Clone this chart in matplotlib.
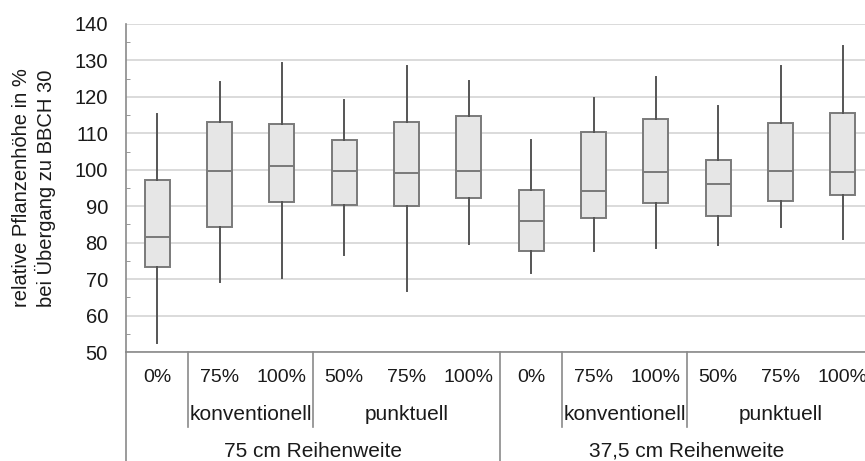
import matplotlib
matplotlib.use("Agg")
import matplotlib.pyplot as plt
import matplotlib.transforms as mtransforms
from matplotlib.ticker import MultipleLocator

plt.rcParams['font.family'] = ['Liberation Sans', 'DejaVu Sans']

# treatment labels (one box per category)
dose_labels = ["0%", "75%", "100%", "50%", "75%", "100%",
               "0%", "75%", "100%", "50%", "75%", "100%"]
method_labels = ["konventionell", "punktuell", "konventionell", "punktuell"]
method_pos = [1.5, 4, 7.5, 10]
group_labels = ["75 cm Reihenweite", "37,5 cm Reihenweite"]
group_pos = [2.5, 8.5]

# box statistics
whislo = [52.4, 69.2, 70.3, 76.6, 66.8, 79.5, 71.8, 77.8, 78.6, 79.4, 84.4, 81.0]
q1     = [73.4, 84.3, 91.2, 90.4, 90.1, 92.2, 77.8, 86.9, 91.0, 87.4, 91.3, 93.0]
med    = [81.5, 99.8, 100.9, 99.8, 99.1, 99.8, 85.9, 94.1, 99.3, 96.2, 99.8, 99.3]
q3     = [97.2, 113.2, 112.5, 108.3, 113.2, 114.8, 94.4, 110.5, 113.8, 102.6, 112.9, 115.6]
whishi = [115.2, 124.2, 129.4, 119.2, 128.4, 124.4, 108.3, 119.8, 125.5, 117.5, 128.4, 134.1]

stats = []
for i in range(len(dose_labels)):
    stats.append(dict(whislo=whislo[i], q1=q1[i], med=med[i], q3=q3[i],
                      whishi=whishi[i], fliers=[]))

fig = plt.figure(figsize=(8.65, 4.61), dpi=100)
# the plot runs slightly past the right edge, like the reference crop
ax = fig.add_axes([126 / 865, 109 / 461, 748 / 865, 328 / 461])

ax.bxp(stats, positions=range(len(stats)), widths=0.4, showcaps=False,
       patch_artist=True,
       boxprops=dict(facecolor="#e6e6e6", edgecolor="#7a7a7a", linewidth=1.4),
       medianprops=dict(color="#7a7a7a", linewidth=1.4),
       whiskerprops=dict(color="#555555", linewidth=1.4),
       zorder=3)

ax.set_xlim(-0.5, len(stats) - 0.5)
ax.set_ylim(50, 140)
ax.yaxis.set_major_locator(MultipleLocator(10))
ax.yaxis.set_minor_locator(MultipleLocator(5))
ax.grid(axis="y", color="#d4d4d4", linewidth=1.2, zorder=0)
ax.set_axisbelow(True)
ax.tick_params(axis="y", which="major", length=0, pad=13, labelsize=14.5,
               labelcolor="#1a1a1a")
ax.tick_params(axis="y", which="minor", direction="in", length=3,
               color="#888888")
ax.set_xticks([])

for side in ["top", "right"]:
    ax.spines[side].set_visible(False)
for side in ["left", "bottom"]:
    ax.spines[side].set_color("#8a8a8a")
    ax.spines[side].set_linewidth(1.2)

# category table below the axis
trans = mtransforms.blended_transform_factory(ax.transData, ax.transAxes)
line_kw = dict(color="#8a8a8a", linewidth=1.2, transform=trans, clip_on=False)

ax.plot([-0.5, -0.5], [0, -0.34], **line_kw)
ax.plot([5.5, 5.5], [0, -0.34], **line_kw)
for xb in [0.5, 2.5, 6.5, 8.5]:
    ax.plot([xb, xb], [0, -0.229], **line_kw)

for i, lab in enumerate(dose_labels):
    ax.text(i, -0.078, lab, transform=trans, ha="center", va="center",
            fontsize=14, color="#1a1a1a", clip_on=False)
for xp, lab in zip(method_pos, method_labels):
    ax.text(xp, -0.192, lab, transform=trans, ha="center", va="center",
            fontsize=15, color="#1a1a1a", clip_on=False)
for xp, lab in zip(group_pos, group_labels):
    ax.text(xp, -0.302, lab, transform=trans, ha="center", va="center",
            fontsize=15, color="#1a1a1a", clip_on=False)

fig.text(34 / 865, 1 - 188 / 461,
         "relative Pflanzenhöhe in %\nbei Übergang zu BBCH 30",
         rotation=90, ha="center", va="center", multialignment="center",
         fontsize=14.5, color="#1a1a1a")

fig.savefig("out.png", dpi=100)
